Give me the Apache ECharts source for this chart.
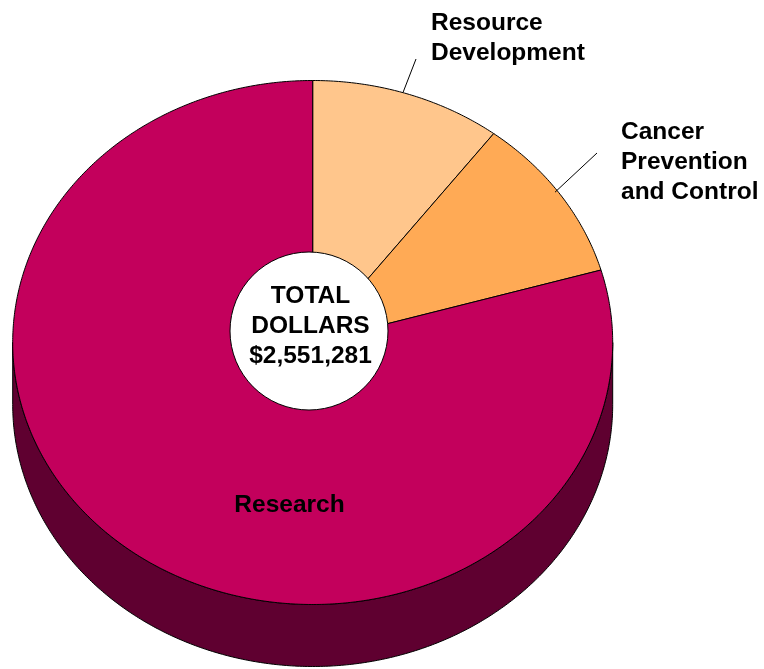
<!DOCTYPE html>
<html><head><meta charset="utf-8">
<script src="https://cdn.jsdelivr.net/npm/echarts@6/dist/echarts.min.js"></script>
<style>html,body{margin:0;padding:0;background:#fff}#c{width:764px;height:669px}</style>
</head><body><div id="c"></div>
<script>
// ---- data ----
const categories = ['Resource\nDevelopment', 'Cancer\nPrevention\nand Control', 'Research'];
const values = [263000, 261000, 2027281];
const totalDollars = 2551281;
const centerTitle = ['TOTAL', 'DOLLARS'];
const topColors = ['#FFC68C', '#FFAA55', '#C3005C'];
const sideColors = ['#806346', '#80552A', '#5F0030'];

// ---- layout ----
const G = { cx: 312.7, cy: 342.5, rx: 300, ry: 262, depth: 62 };
const labelLayout = [
  { x: 431, y: 8, align: 'left', vAlign: 'top', leaderEnd: [416, 59] },
  { x: 621, y: 117.5, align: 'left', vAlign: 'top', leaderEnd: [597, 153] },
  { x: 289.5, y: 505.3, align: 'center', vAlign: 'middle', leaderEnd: null }
];
const FONT = '"Liberation Sans", Arial, sans-serif';
const FS = 24.5;

const sum = values.reduce((a, b) => a + b, 0);
const starts = [];
let acc = 0;
values.forEach(v => { starts.push(acc); acc += v; });

function pt(t, dy) {
  return [G.cx + G.rx * Math.sin(t), G.cy - G.ry * Math.cos(t) + (dy || 0)];
}
function arc(a, b, dy) {
  const n = Math.max(2, Math.ceil((b - a) / (Math.PI / 360)));
  const out = [];
  for (let k = 0; k <= n; k++) out.push(pt(a + (b - a) * k / n, dy));
  return out;
}

function renderItem(params, api) {
  const i = params.dataIndex;
  const v = api.value(1);
  const a0 = starts[i] / sum * 2 * Math.PI;
  const a1 = a0 + v / sum * 2 * Math.PI;
  const children = [];
  // side wall (front half only)
  const s0 = Math.max(a0, Math.PI / 2), s1 = Math.min(a1, 3 * Math.PI / 2);
  if (s1 > s0) {
    const pts = arc(s0, s1, 0).concat(arc(s0, s1, G.depth).reverse());
    children.push({
      type: 'polygon', shape: { points: pts },
      style: { fill: sideColors[i], stroke: '#000', lineWidth: 1 }
    });
  }
  // top face
  const topPts = [[G.cx, G.cy]].concat(arc(a0, a1, 0));
  children.push({
    type: 'polygon', shape: { points: topPts },
    style: { fill: topColors[i], stroke: '#000', lineWidth: 1 }
  });
  // label
  const L = labelLayout[i];
  if (L.leaderEnd) {
    const m = pt((a0 + a1) / 2, 0);
    children.push({
      type: 'line', shape: { x1: m[0] - 5, y1: m[1] - 2, x2: L.leaderEnd[0], y2: L.leaderEnd[1] },
      style: { stroke: '#000', lineWidth: 1 }
    });
  }
  children.push({
    type: 'text', x: L.x, y: L.y, z2: 10,
    style: {
      text: categories[i], fill: '#000',
      fontFamily: FONT, fontSize: FS, fontWeight: 'bold',
      lineHeight: 30, align: L.align, verticalAlign: L.vAlign
    }
  });
  return { type: 'group', children };
}

const chart = echarts.init(document.getElementById('c'));
chart.setOption({
  animation: false,
  backgroundColor: '#fff',
  series: [{
    type: 'custom',
    coordinateSystem: 'none',
    renderItem: renderItem,
    data: values.map((v, i) => ({ name: categories[i], value: [i, v] }))
  }],
  graphic: [
    {
      type: 'circle', z: 100, shape: { cx: 309, cy: 331, r: 79 },
      style: { fill: '#fff', stroke: '#000', lineWidth: 1 }
    },
    {
      type: 'text', z: 101, x: 310.5, y: 326.7,
      style: {
        text: centerTitle.join('\n') + '\n$' + totalDollars.toLocaleString('en-US'),
        fill: '#000', fontFamily: FONT, fontSize: FS, fontWeight: 'bold',
        lineHeight: 30, align: 'center', verticalAlign: 'middle'
      }
    }
  ]
});
</script></body></html>
